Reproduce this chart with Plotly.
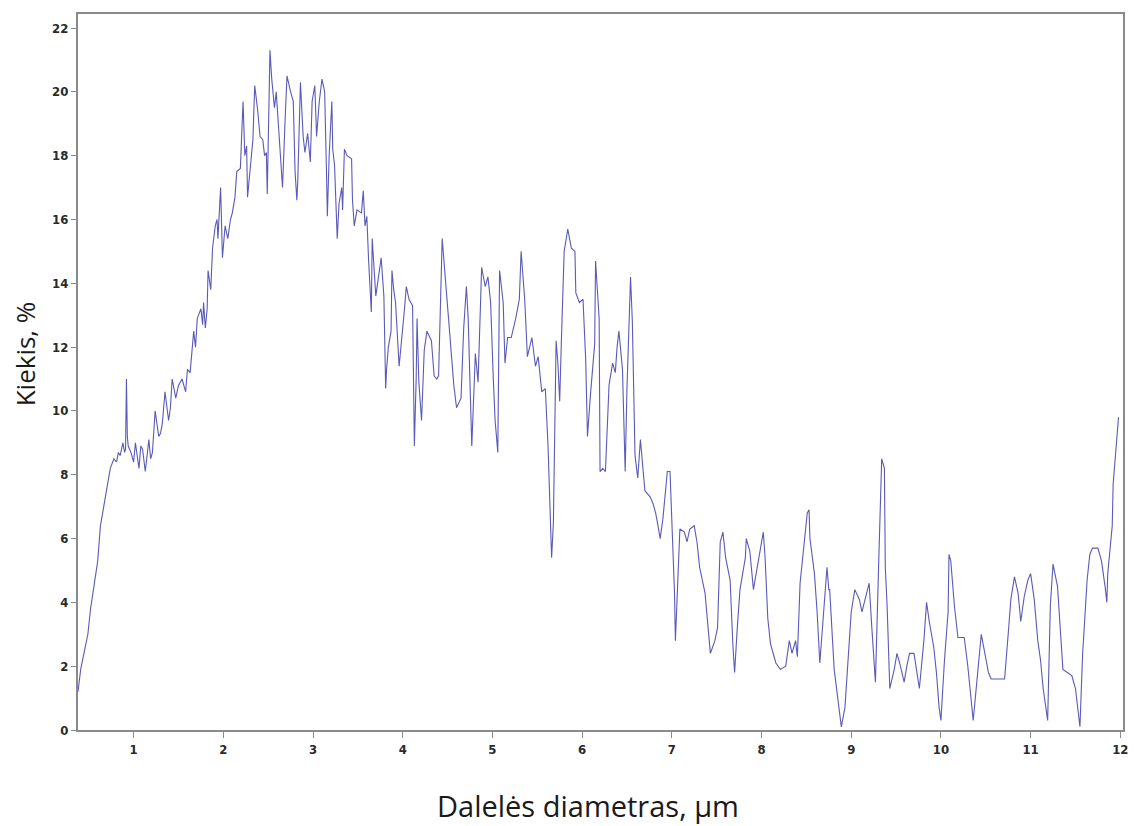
import plotly.graph_objects as go

# Particle diameter (µm) and amount (%)
diameter = [
    0.38, 0.41, 0.46, 0.49, 0.52, 0.56, 0.60, 0.63, 0.67, 0.71, 0.74, 0.78, 0.81, 0.83, 0.85, 0.88,
    0.90, 0.91, 0.92, 0.93, 0.94, 0.97, 1.00, 1.02, 1.06, 1.08, 1.10, 1.13, 1.17, 1.19, 1.21, 1.24,
    1.28, 1.30, 1.32, 1.35, 1.39, 1.41, 1.43, 1.47, 1.50, 1.54, 1.58, 1.60, 1.63, 1.67, 1.69, 1.71,
    1.75, 1.77, 1.78, 1.80, 1.82, 1.83, 1.86, 1.88, 1.91, 1.93, 1.94, 1.97, 1.99, 2.02, 2.05, 2.08,
    2.10, 2.13, 2.15, 2.19, 2.22, 2.24, 2.26, 2.27, 2.30, 2.33, 2.35, 2.38, 2.41, 2.44, 2.46, 2.48,
    2.49, 2.52, 2.54, 2.57, 2.59, 2.63, 2.66, 2.69, 2.71, 2.75, 2.78, 2.80, 2.82, 2.83, 2.86, 2.89,
    2.91, 2.94, 2.97, 2.99, 3.02, 3.04, 3.07, 3.10, 3.13, 3.15, 3.16, 3.18, 3.21, 3.22, 3.24, 3.27,
    3.29, 3.32, 3.33, 3.35, 3.38, 3.43, 3.44, 3.46, 3.49, 3.54, 3.56, 3.58, 3.60, 3.62, 3.65, 3.66,
    3.68, 3.70, 3.73, 3.76, 3.79, 3.81, 3.82, 3.84, 3.87, 3.88, 3.90, 3.92, 3.96, 4.00, 4.02, 4.04,
    4.07, 4.11, 4.13, 4.15, 4.16, 4.18, 4.21, 4.24, 4.27, 4.32, 4.35, 4.38, 4.40, 4.44, 4.46, 4.49,
    4.54, 4.57, 4.60, 4.65, 4.68, 4.71, 4.73, 4.77, 4.81, 4.84, 4.88, 4.92, 4.95, 4.98, 5.01, 5.03,
    5.06, 5.08, 5.12, 5.14, 5.17, 5.21, 5.26, 5.30, 5.32, 5.36, 5.39, 5.44, 5.48, 5.51, 5.55, 5.59,
    5.62, 5.64, 5.66, 5.68, 5.70, 5.71, 5.73, 5.75, 5.77, 5.80, 5.84, 5.88, 5.92, 5.93, 5.97, 6.01,
    6.04, 6.06, 6.09, 6.14, 6.15, 6.17, 6.19, 6.20, 6.23, 6.26, 6.30, 6.34, 6.37, 6.39, 6.41, 6.45,
    6.48, 6.50, 6.54, 6.56, 6.59, 6.62, 6.65, 6.70, 6.73, 6.76, 6.79, 6.82, 6.84, 6.87, 6.90, 6.92,
    6.95, 6.98, 7.02, 7.03, 7.04, 7.06, 7.09, 7.14, 7.17, 7.20, 7.25, 7.28, 7.31, 7.37, 7.40, 7.43,
    7.48, 7.51, 7.54, 7.57, 7.60, 7.65, 7.68, 7.70, 7.73, 7.76, 7.82, 7.83, 7.87, 7.91, 7.94, 7.98,
    8.02, 8.04, 8.07, 8.10, 8.16, 8.21, 8.27, 8.31, 8.34, 8.38, 8.40, 8.43, 8.48, 8.51, 8.53, 8.54,
    8.59, 8.62, 8.65, 8.70, 8.73, 8.75, 8.76, 8.81, 8.84, 8.89, 8.93, 8.97, 9.00, 9.04, 9.09, 9.12,
    9.16, 9.20, 9.23, 9.27, 9.31, 9.34, 9.37, 9.38, 9.40, 9.42, 9.43, 9.48, 9.51, 9.54, 9.59, 9.62,
    9.65, 9.70, 9.73, 9.76, 9.81, 9.84, 9.87, 9.92, 9.95, 9.98, 10.00, 10.04, 10.08, 10.09, 10.11,
    10.15, 10.19, 10.22, 10.26, 10.30, 10.34, 10.36, 10.40, 10.43, 10.45, 10.49, 10.53, 10.56, 10.62,
    10.67, 10.71, 10.75, 10.78, 10.82, 10.86, 10.89, 10.93, 10.97, 11.00, 11.04, 11.08, 11.11, 11.14,
    11.19, 11.22, 11.25, 11.30, 11.33, 11.36, 11.41, 11.46, 11.50, 11.53, 11.55, 11.58, 11.63, 11.66,
    11.69, 11.75, 11.79, 11.83, 11.85, 11.86, 11.91, 11.92, 11.96, 11.98,
]

amount = [
    1.2, 1.9, 2.6, 3.0, 3.8, 4.5, 5.3, 6.4, 7.1, 7.7, 8.2, 8.5, 8.4, 8.7, 8.6, 9.0,
    8.7, 8.8, 11.0, 9.2, 8.9, 8.7, 8.4, 9.0, 8.2, 8.9, 8.8, 8.1, 9.1, 8.5, 8.7, 10.0,
    9.2, 9.3, 9.6, 10.6, 9.7, 10.1, 11.0, 10.4, 10.8, 11.0, 10.6, 11.3, 11.2, 12.5, 12.0, 12.9,
    13.2, 12.7, 13.4, 12.6, 13.2, 14.4, 13.8, 15.1, 15.8, 16.0, 15.4, 17.0, 14.8, 15.8, 15.4, 16.0,
    16.2, 16.7, 17.5, 17.6, 19.7, 18.0, 18.3, 16.7, 17.5, 18.5, 20.2, 19.5, 18.6, 18.5, 18.0, 18.1,
    16.8, 21.3, 20.4, 19.5, 20.0, 18.2, 17.0, 19.2, 20.5, 20.0, 19.7, 17.5, 16.6, 17.2, 20.3, 18.6,
    18.1, 18.7, 17.8, 19.7, 20.2, 18.6, 19.7, 20.4, 20.0, 17.5, 16.1, 18.0, 19.7, 18.2, 17.7, 15.4,
    16.5, 17.0, 16.3, 18.2, 18.0, 17.9, 16.6, 15.8, 16.3, 16.2, 16.9, 15.8, 16.1, 14.7, 13.1, 15.4,
    14.3, 13.6, 14.2, 14.8, 13.6, 10.7, 11.3, 12.0, 12.5, 14.4, 13.8, 13.4, 11.4, 12.5, 13.2, 13.9,
    13.5, 13.3, 8.9, 11.0, 12.9, 10.9, 9.7, 11.9, 12.5, 12.2, 11.1, 11.0, 11.1, 15.4, 14.7, 13.6,
    11.9, 10.8, 10.1, 10.4, 12.6, 13.9, 12.9, 8.9, 11.8, 10.9, 14.5, 13.9, 14.2, 13.4, 11.0, 9.7,
    8.7, 14.4, 13.4, 11.5, 12.3, 12.3, 12.9, 13.5, 15.0, 13.5, 11.7, 12.3, 11.4, 11.7, 10.6, 10.7,
    8.9, 7.4, 5.4, 6.5, 9.7, 12.2, 11.5, 10.3, 12.3, 15.0, 15.7, 15.1, 15.0, 13.7, 13.4, 13.5,
    11.6, 9.2, 10.4, 12.1, 14.7, 13.8, 12.9, 8.1, 8.2, 8.1, 10.8, 11.5, 11.2, 12.0, 12.5, 11.3,
    8.1, 10.7, 14.2, 12.8, 8.6, 7.9, 9.1, 7.5, 7.4, 7.3, 7.1, 6.8, 6.5, 6.0, 6.6, 7.2,
    8.1, 8.1, 4.9, 4.3, 2.8, 4.1, 6.3, 6.2, 5.9, 6.3, 6.4, 5.9, 5.1, 4.3, 3.2, 2.4,
    2.8, 3.2, 5.9, 6.2, 5.4, 4.7, 2.7, 1.8, 3.2, 4.4, 5.4, 6.0, 5.6, 4.4, 4.9, 5.5,
    6.2, 5.4, 3.5, 2.7, 2.1, 1.9, 2.0, 2.8, 2.4, 2.8, 2.3, 4.6, 6.0, 6.8, 6.9, 6.0,
    4.9, 3.7, 2.1, 3.8, 5.1, 4.4, 4.4, 1.9, 1.2, 0.1, 0.7, 2.3, 3.7, 4.4, 4.1, 3.7,
    4.2, 4.6, 3.2, 1.5, 5.6, 8.5, 8.2, 5.1, 3.9, 2.5, 1.3, 1.9, 2.4, 2.1, 1.5, 2.0,
    2.4, 2.4, 1.9, 1.3, 2.8, 4.0, 3.4, 2.6, 1.8, 0.7, 0.3, 2.2, 3.7, 5.5, 5.3,
    3.9, 2.9, 2.9, 2.9, 2.0, 0.8, 0.3, 1.5, 2.5, 3.0, 2.4, 1.8, 1.6, 1.6,
    1.6, 1.6, 3.0, 4.1, 4.8, 4.3, 3.4, 4.2, 4.7, 4.9, 4.1, 2.8, 2.2, 1.3,
    0.3, 3.9, 5.2, 4.5, 3.2, 1.9, 1.8, 1.7, 1.3, 0.5, 0.1, 2.4, 4.7, 5.5,
    5.7, 5.7, 5.3, 4.5, 4.0, 4.9, 6.4, 7.7, 9.3, 9.8,
]

n = min(len(diameter), len(amount))
diameter = diameter[:n]
amount = amount[:n]

x_ticks = list(range(1, 13))
y_ticks = list(range(0, 23, 2))

fig = go.Figure()
fig.add_trace(go.Scatter(
    x=diameter, y=amount, mode="lines",
    line=dict(color="#5a5ab8", width=1.1),
    showlegend=False,
))

tick_font = dict(family="Liberation Sans Narrow, DejaVu Sans Condensed, Arial", size=13,
                 color="#2a2a2a", weight="bold")

fig.update_layout(
    width=1134, height=826,
    margin=dict(l=78, r=6, t=14, b=96),
    paper_bgcolor="white", plot_bgcolor="white",
    xaxis=dict(
        range=[0.38, 12.03], tickvals=x_ticks, ticktext=[str(v) for v in x_ticks],
        showgrid=False, zeroline=False, showline=True, mirror=True,
        linecolor="#8a8a8a", linewidth=2, ticks="outside", ticklen=6, tickcolor="#8a8a8a",
        tickwidth=1, tickfont=tick_font,
    ),
    yaxis=dict(
        range=[0, 22.44], tickvals=y_ticks, ticktext=[str(v) for v in y_ticks],
        showgrid=False, zeroline=False, showline=True, mirror=True,
        linecolor="#8a8a8a", linewidth=2, ticks="outside", ticklen=5, tickcolor="#8a8a8a",
        tickwidth=1, tickfont=tick_font,
    ),
    annotations=[
        dict(text="Kiekis, %", xref="paper", yref="paper", x=-0.0505, y=0.525,
             xanchor="center", yanchor="middle", textangle=-90, showarrow=False,
             font=dict(family="Open Sans", size=26, color="#1a1a1a")),
        dict(text="Dalelės diametras, µm", xref="paper", yref="paper", x=0.488, y=-0.105,
             xanchor="center", yanchor="middle", showarrow=False,
             font=dict(family="Open Sans", size=29, color="#1a1a1a")),
    ],
)

fig.write_html("out.html")
